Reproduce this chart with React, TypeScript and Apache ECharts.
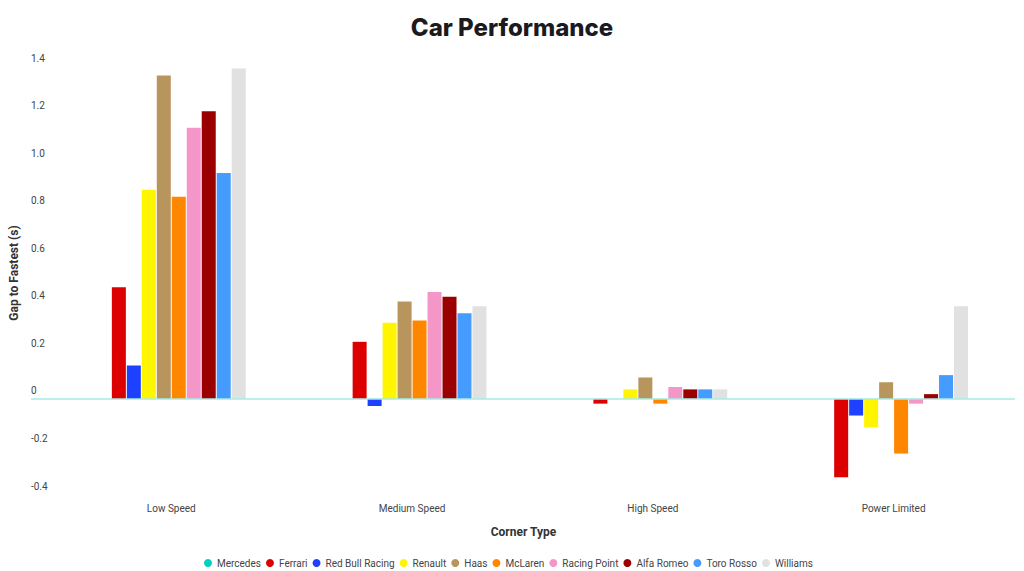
import React, { useEffect, useRef } from "react";
import * as echarts from "echarts";

const categories = ["Low Speed", "Medium Speed", "High Speed", "Power Limited"];
const teams = ["Mercedes", "Ferrari", "Red Bull Racing", "Renault", "Haas", "McLaren", "Racing Point", "Alfa Romeo", "Toro Rosso", "Williams"];
const teamColors = ["#00d2be", "#dc0000", "#1e41ff", "#fff500", "#b8955c", "#ff8700", "#f596c8", "#9b0000", "#469bff", "#e1e1e1"];

const mercedes = [0, 0, 0, 0];
const ferrari = [0.47, 0.24, -0.02, -0.33];
const redBull = [0.14, -0.03, 0, -0.07];
const renault = [0.88, 0.32, 0.04, -0.12];
const haas = [1.36, 0.41, 0.09, 0.07];
const mclaren = [0.85, 0.33, -0.02, -0.23];
const racingPoint = [1.14, 0.45, 0.05, -0.02];
const alfaRomeo = [1.21, 0.43, 0.04, 0.02];
const toroRosso = [0.95, 0.36, 0.04, 0.1];
const williams = [1.39, 0.39, 0.04, 0.39];

const seriesValues = [mercedes, ferrari, redBull, renault, haas, mclaren, racingPoint, alfaRomeo, toroRosso, williams];

const yMin = -0.4;
const yMax = 1.4;
const yStep = 0.2;

const FONT = "Roboto, 'Noto Sans', sans-serif";

export default function App() {
  const ref = useRef<HTMLDivElement>(null);
  useEffect(() => {
    if (!ref.current) return;
    const chart = echarts.init(ref.current, undefined, { renderer: "svg" });
    const option: any = {
      animation: false,
      backgroundColor: "#ffffff",
      title: {
        text: "Car Performance",
        left: "center",
        top: 15,
        padding: 0,
        textStyle: { fontFamily: "Inter, Lato, sans-serif", fontWeight: 800, fontSize: 24, color: "#1b1b1f" },
      },
      legend: {
        data: teams,
        bottom: 3,
        left: 204,
        padding: 0,
        icon: "circle",
        itemWidth: 8,
        itemHeight: 8,
        itemGap: 5,
        textStyle: { fontFamily: FONT, fontSize: 10, color: "#444" },
      },
      grid: { left: 50, right: 10, top: 66, bottom: 77, containLabel: false },
      xAxis: {
        type: "category",
        data: categories,
        axisLine: { show: false, onZero: false },
        axisTick: { show: false },
        axisLabel: { fontFamily: FONT, fontSize: 10, color: "#444", margin: 9 },
        name: "Corner Type",
        nameLocation: "middle",
        nameGap: 32,
        nameTextStyle: { fontFamily: FONT, fontSize: 12, fontWeight: "bold", color: "#333", padding: [0, 18, 0, 0] },
      },
      yAxis: {
        type: "value",
        min: yMin,
        max: yMax,
        interval: yStep,
        axisLine: { show: false },
        axisTick: { show: false },
        splitLine: { show: false },
        axisLabel: {
          fontFamily: FONT,
          fontSize: 10,
          color: "#444",
          align: "left",
          margin: 20,
          verticalAlign: "bottom",
          lineHeight: 16,
          formatter: (v: number) => (Math.abs(v) < 1e-9 ? "0" : v.toFixed(1)),
        },
        name: "Gap to Fastest (s)",
        nameLocation: "middle",
        nameGap: 19,
        nameTextStyle: { fontFamily: FONT, fontSize: 12, fontWeight: "bold", color: "#333", padding: [0, 0, 0, 14] },
      },
      series: teams.map((t, i) => ({
        name: t,
        type: "bar",
        data: seriesValues[i],
        barWidth: 14,
        barGap: "7%",
        itemStyle: { color: teamColors[i] },
      })),
    };
    chart.setOption(option);
    const y0 = chart.convertToPixel({ yAxisIndex: 0 }, 0) as number;
    chart.setOption({
      graphic: [
        {
          type: "line",
          z: 10,
          shape: { x1: 31, y1: y0, x2: 1015, y2: y0 },
          style: { stroke: "#a6ebe4", lineWidth: 1.5 },
        },
      ],
    });
    return () => chart.dispose();
  }, []);
  return <div ref={ref} style={{ position: "fixed", left: 0, top: 0, width: 1024, height: 571 }} />;
}
